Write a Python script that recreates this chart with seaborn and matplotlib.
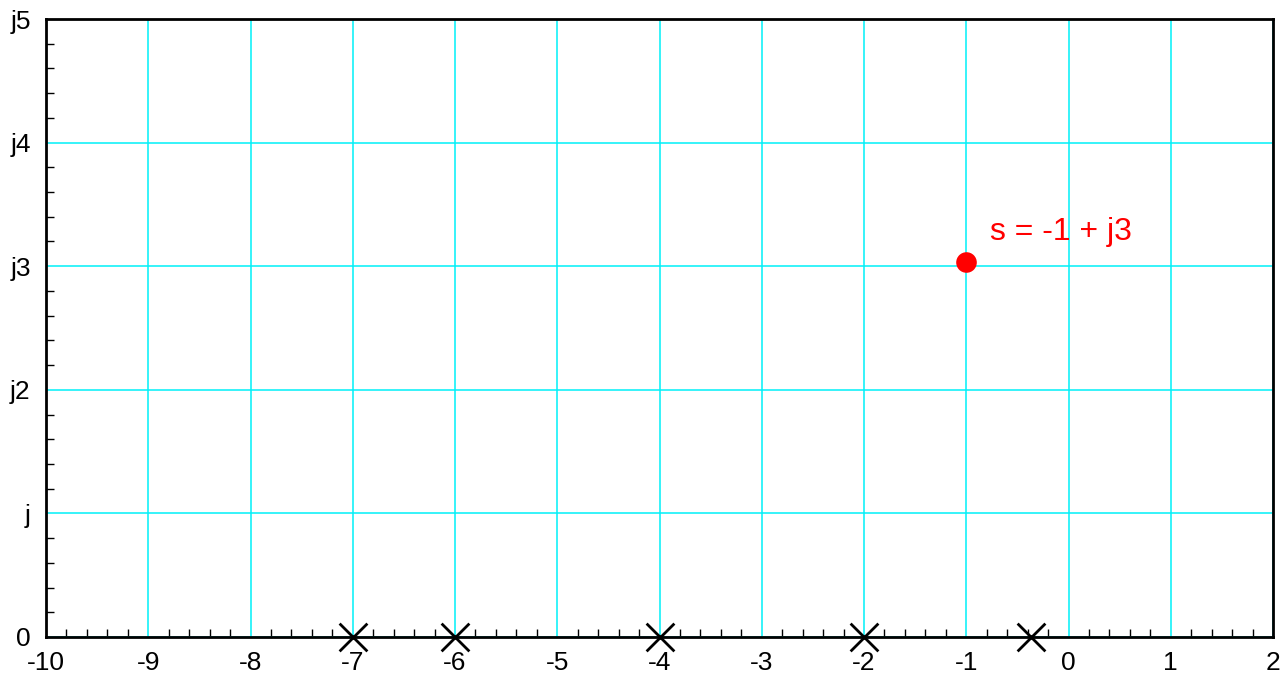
import matplotlib
matplotlib.use("Agg")
import matplotlib.pyplot as plt
from matplotlib.ticker import MultipleLocator
import numpy as np
import pandas as pd
import seaborn as sns

# Data
pole_re = [-7, -6, -4, -2, -0.37]
pole_im = [0, 0, 0, 0, 0]
point_re = [-1]
point_im = [3.03]
point_label = "s = -1 + j3"
x_ticks = [-10, -9, -8, -7, -6, -5, -4, -3, -2, -1, 0, 1, 2]
x_ticklabels = ["-10", "-9", "-8", "-7", "-6", "-5", "-4", "-3", "-2", "-1", "0", "1", "2"]
y_ticks = [0, 1, 2, 3, 4, 5]
y_ticklabels = ["0", "j", "j2", "j3", "j4", "j5"]

sns.set_theme(style="white")
plt.rcParams['font.family'] = ['Liberation Sans', 'DejaVu Sans']

fig = plt.figure(figsize=(12.86, 6.73), dpi=100)
ax = fig.add_axes([46/1286, 1-637/673, (1273-46)/1286, (637-19)/673])

poles = pd.DataFrame({"re": pole_re, "im": pole_im})
pt = pd.DataFrame({"re": point_re, "im": point_im})

ax.set_xlim(-10, 2)
ax.set_ylim(0, 5)
ax.set_xticks(x_ticks)
ax.set_xticklabels(x_ticklabels)
ax.set_yticks(y_ticks)
ax.set_yticklabels(y_ticklabels)
ax.xaxis.set_minor_locator(MultipleLocator(0.2))
ax.yaxis.set_minor_locator(MultipleLocator(0.2))
ax.grid(True, which="major", color="#00f0f8", linewidth=1.1)
ax.set_axisbelow(True)
ax.tick_params(which="major", length=0, labelsize=19, colors="black")
ax.tick_params(axis="x", which="major", pad=10)
ax.tick_params(axis="y", which="major", pad=11)
ax.tick_params(which="minor", direction="in", length=6, width=1, color="black",
               bottom=True, left=True, top=False, right=False)
for s in ax.spines.values():
    s.set_color("black")
    s.set_linewidth(2)

sns.scatterplot(data=poles, x="re", y="im", ax=ax, marker="x", s=400,
                color="black", linewidth=2, clip_on=False, zorder=5)
sns.scatterplot(data=pt, x="re", y="im", ax=ax, marker="o", s=220,
                color="red", edgecolor="red", linewidth=0, clip_on=False, zorder=5)
ax.annotate(point_label, xy=(point_re[0], point_im[0]), xytext=(17, 22),
            textcoords="offset points", color="red", fontsize=23, va="center")
ax.set_xlabel("")
ax.set_ylabel("")

fig.savefig("out.png", dpi=100)
